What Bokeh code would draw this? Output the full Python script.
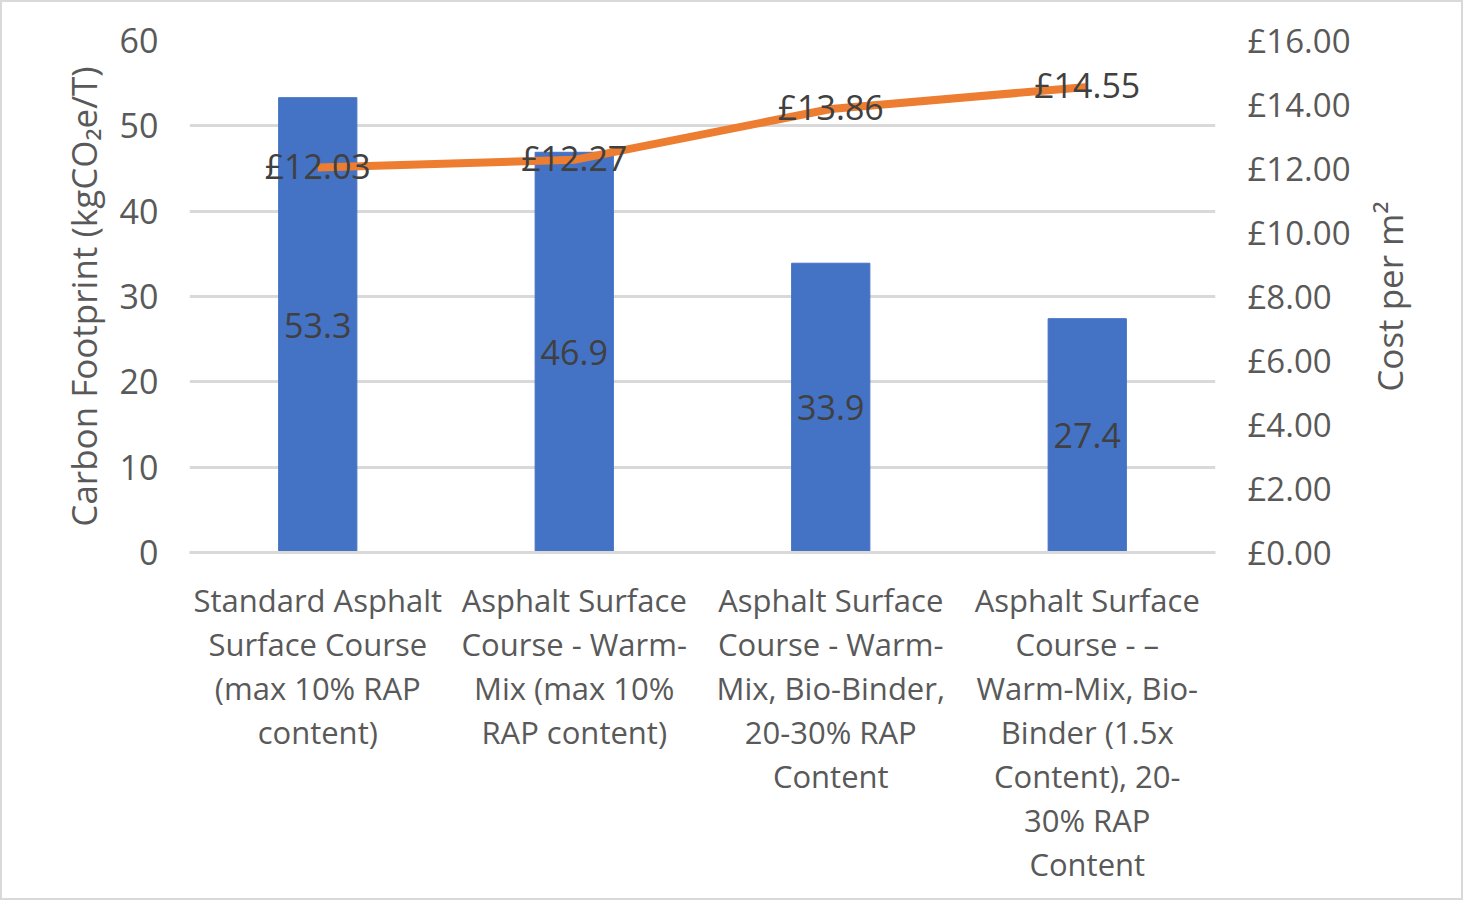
from bokeh.plotting import figure
from bokeh.layouts import row
from bokeh.models import ColumnDataSource, Range1d, LinearAxis, PrintfTickFormatter, FixedTicker, LabelSet
from bokeh.core.properties import value
from bokeh.embed import file_html
from bokeh.resources import INLINE

categories = [
    "Standard Asphalt\nSurface Course\n(max 10% RAP\ncontent)",
    "Asphalt Surface\nCourse - Warm-\nMix (max 10%\nRAP content)",
    "Asphalt Surface\nCourse - Warm-\nMix, Bio-Binder,\n20-30% RAP\nContent",
    "Asphalt Surface\nCourse - \u2013\nWarm-Mix, Bio-\nBinder (1.5x\nContent), 20-\n30% RAP\nContent",
]
carbon = [53.3, 46.9, 33.9, 27.4]
cost = [12.03, 12.27, 13.86, 14.55]

FONT = "Open Sans"
GRAY = "#595959"
DARK = "#404040"

src = ColumnDataSource(dict(
    x=categories,
    carbon=carbon,
    carbon_mid=[v / 2 for v in carbon],
    carbon_lbl=[f"{v:.1f}" for v in carbon],
    cost=cost,
    cost_lbl=[f"\u00a3{v:.2f}" for v in cost],
))

p = figure(x_range=categories, y_range=Range1d(0, 60), width=1360, height=896,
           output_backend="svg", toolbar_location=None,
           min_border_left=187, min_border_right=147, min_border_top=38, min_border_bottom=346)
p.outline_line_color = None
p.extra_y_ranges = {"cost": Range1d(0, 16)}

p.vbar(x="x", top="carbon", width=0.305, source=src, color="#4472C4")
p.line(x="x", y="cost", source=src, y_range_name="cost", line_color="#ED7D31", line_width=8)

p.add_layout(LabelSet(x="x", y="carbon_mid", text="carbon_lbl", source=src,
                      text_align="center", text_baseline="middle",
                      text_font=value(FONT), text_font_size="34px", text_color=DARK))
p.add_layout(LabelSet(x="x", y="cost", text="cost_lbl", source=src, y_range_name="cost",
                      text_align="center", text_baseline="middle", y_offset=2,
                      text_font=value(FONT), text_font_size="34px", text_color=DARK))

# grid
p.xgrid.grid_line_color = None
p.ygrid.grid_line_color = "#d9d9d9"
p.ygrid.grid_line_width = 3
p.yaxis.ticker = FixedTicker(ticks=[0, 10, 20, 30, 40, 50, 60])

# left axis
ya = p.yaxis[0]
ya.axis_label = "Carbon Footprint (kgCO\u2082e/T)"
ya.axis_line_color = None
ya.major_tick_line_color = None
ya.minor_tick_line_color = None
ya.major_label_text_font = FONT
ya.major_label_text_font_size = "34px"
ya.major_label_text_color = GRAY
ya.major_label_standoff = 25
ya.axis_label_text_font = FONT
ya.axis_label_text_font_size = "35px"
ya.axis_label_text_color = GRAY
ya.axis_label_text_font_style = "normal"
ya.axis_label_standoff = 10

# right axis (ticks)
ra = LinearAxis(y_range_name="cost", ticker=FixedTicker(ticks=[0, 2, 4, 6, 8, 10, 12, 14, 16]),
                formatter=PrintfTickFormatter(format="\u00a3%.2f"))
ra.axis_line_color = None
ra.major_tick_line_color = None
ra.minor_tick_line_color = None
ra.major_label_text_font = FONT
ra.major_label_text_font_size = "33px"
ra.major_label_text_color = GRAY
ra.major_label_standoff = 26
p.add_layout(ra, "right")

# x axis
xa = p.xaxis[0]
xa.axis_line_color = "#d9d9d9"
xa.axis_line_width = 3
xa.major_tick_line_color = None
xa.minor_tick_line_color = None
xa.major_label_text_font = FONT
xa.major_label_text_font_size = "31px"
xa.major_label_text_color = GRAY
xa.major_label_text_line_height = 1.05
xa.major_label_standoff = 20
xa.major_label_orientation = "horizontal"

# narrow companion panel carrying the right-hand axis title (reads upwards)
p2 = figure(width=99, height=896, y_range=Range1d(0, 16), x_range=Range1d(0, 1),
            output_backend="svg", toolbar_location=None,
            min_border_left=0, min_border_right=0, min_border_top=38, min_border_bottom=346)
p2.outline_line_color = None
p2.xaxis.visible = False
p2.xgrid.visible = False
p2.ygrid.visible = False
ta = p2.yaxis[0]
ta.ticker = FixedTicker(ticks=[])
ta.axis_line_color = None
ta.major_tick_line_color = None
ta.minor_tick_line_color = None
ta.major_label_standoff = 0
ta.axis_label = "Cost per m\u00b2"
ta.axis_label_text_font = FONT
ta.axis_label_text_font_size = "35px"
ta.axis_label_text_color = GRAY
ta.axis_label_text_font_style = "normal"
ta.axis_label_standoff = 2

layout = row(p, p2, styles={"border": "2px solid #d9d9d9"})

open("out.html", "w").write(file_html(layout, INLINE))
